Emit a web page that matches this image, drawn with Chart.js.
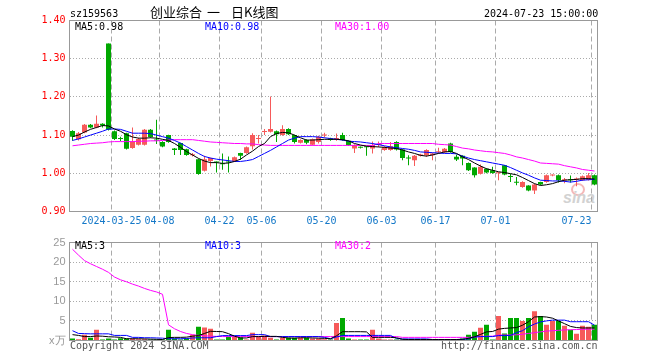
<!DOCTYPE html>
<html>
<head>
<meta charset="utf-8">
<script src="https://cdn.jsdelivr.net/npm/chart.js@4.4.1/dist/chart.umd.min.js"></script>
<style>
  html, body { margin: 0; padding: 0; background: #fff; }
  #wrap { position: relative; width: 660px; height: 360px; overflow: hidden;
          font-family: "DejaVu Sans Mono", monospace; font-size: 10px; }
  canvas { position: absolute; left: 0; }
  #pc { top: 0; }
  #vc { top: 232px; }
  .t { position: absolute; white-space: pre; line-height: 10px; }
  .cjk { font: 13px/13px "Noto Sans CJK SC", sans-serif; }
  .logo { position: absolute; left: 563px; top: 190px; font: italic bold 16px/16px "Liberation Sans", sans-serif; color: #d2d2d2; }
  .eye { position: absolute; left: 571px; top: 183px; width: 10px; height: 9px; border: 2px solid #f4b8b8; border-radius: 50%; }
</style>
</head>
<body>
<div id="wrap">
  <div class="eye"></div>
  <div class="logo">sina</div>
  <canvas id="pc" width="660" height="232"></canvas>
  <canvas id="vc" width="660" height="128"></canvas>

  <div class="t" style="left:70px;top:9px">sz159563</div>
  <div class="t cjk" style="left:150px;top:5px">创业综合</div>
  <div class="t cjk" style="left:207px;top:5px">一</div>
  <div class="t cjk" style="left:231px;top:5px">日K线图</div>
  <div class="t" style="left:484px;top:9px">2024-07-23 15:00:00</div>

  <div class="t" style="left:75px;top:22px;color:#000">MA5:0.98</div>
  <div class="t" style="left:205px;top:22px;color:#0000ff">MA10:0.98</div>
  <div class="t" style="left:335px;top:22px;color:#ff00ff">MA30:1.00</div>

  <div class="t" style="left:75px;top:241px;color:#000">MA5:3</div>
  <div class="t" style="left:205px;top:241px;color:#0000ff">MA10:3</div>
  <div class="t" style="left:335px;top:241px;color:#ff00ff">MA30:2</div>

  <div class="t" style="left:70px;top:341px;color:#555">Copyright 2024 SINA.COM</div>
  <div class="t" style="left:441px;top:341px;color:#555">http://finance.sina.com.cn</div>
</div>

<script>
// trading days shown on the chart
const dates = [
  '2024-03-14','2024-03-15','2024-03-18','2024-03-19','2024-03-20','2024-03-21','2024-03-22','2024-03-25','2024-03-26','2024-03-27',
  '2024-03-28','2024-03-29','2024-04-01','2024-04-02','2024-04-03','2024-04-08','2024-04-09','2024-04-10','2024-04-11','2024-04-12',
  '2024-04-15','2024-04-16','2024-04-17','2024-04-18','2024-04-19','2024-04-22','2024-04-23','2024-04-24','2024-04-25','2024-04-26',
  '2024-04-29','2024-04-30','2024-05-06','2024-05-07','2024-05-08','2024-05-09','2024-05-10','2024-05-13','2024-05-14','2024-05-15',
  '2024-05-16','2024-05-17','2024-05-20','2024-05-21','2024-05-22','2024-05-23','2024-05-24','2024-05-27','2024-05-28','2024-05-29',
  '2024-05-30','2024-05-31','2024-06-03','2024-06-04','2024-06-05','2024-06-06','2024-06-07','2024-06-11','2024-06-12','2024-06-13',
  '2024-06-14','2024-06-17','2024-06-18','2024-06-19','2024-06-20','2024-06-21','2024-06-24','2024-06-25','2024-06-26','2024-06-27',
  '2024-06-28','2024-07-01','2024-07-02','2024-07-03','2024-07-04','2024-07-05','2024-07-08','2024-07-09','2024-07-10','2024-07-11',
  '2024-07-12','2024-07-15','2024-07-16','2024-07-17','2024-07-18','2024-07-19','2024-07-22','2024-07-23'
];

// dates with a gridline + label underneath
const axisDates  = ['2024-03-25','2024-04-08','2024-04-22','2024-05-06','2024-05-20','2024-06-03','2024-06-17','2024-07-01','2024-07-23'];
const axisLabels = ['2024-03-25','04-08','04-22','05-06','05-20','06-03','06-17','07-01','07-23     '];

const priceTicks = [0.9, 1.0, 1.1, 1.2, 1.3, 1.4];
const volTicks   = [0, 5, 10, 15, 20, 25];

const open = [
  1.111,1.089,1.107,1.127,1.120,1.130,1.340,1.110,1.091,1.105,
  1.066,1.075,1.075,1.114,1.088,1.082,1.100,1.065,1.079,1.063,
  1.047,1.037,1.007,1.032,1.030,1.025,1.029,1.032,1.053,1.053,
  1.071,1.090,1.108,1.109,1.110,1.100,1.116,1.100,1.080,1.087,
  1.075,1.082,1.099,1.091,1.090,1.100,1.085,1.065,1.069,1.069,
  1.065,1.074,1.061,1.061,1.082,1.062,1.040,1.034,1.046,1.047,
  1.047,1.055,1.055,1.078,1.043,1.046,1.027,1.015,0.999,1.012,
  1.008,1.000,1.021,0.991,0.976,0.964,0.968,0.955,0.977,0.977,
  0.994,0.995,0.982,0.983,0.984,0.982,0.983,0.995
];
const close = [
  1.096,1.105,1.127,1.120,1.130,1.125,1.114,1.090,1.090,1.064,
  1.083,1.090,1.114,1.095,1.086,1.070,1.082,1.061,1.061,1.048,
  1.049,0.998,1.037,1.040,1.028,1.024,1.028,1.042,1.046,1.068,
  1.100,1.092,1.109,1.116,1.102,1.116,1.102,1.082,1.087,1.080,
  1.089,1.096,1.100,1.087,1.091,1.087,1.074,1.074,1.067,1.068,
  1.074,1.075,1.069,1.071,1.062,1.040,1.039,1.046,1.049,1.061,
  1.052,1.056,1.064,1.056,1.036,1.039,1.008,0.995,1.017,1.002,
  1.001,1.001,0.997,0.990,0.975,0.977,0.955,0.971,0.971,0.995,
  0.995,0.982,0.983,0.982,0.985,0.992,0.995,0.971
];
const high = [
  1.113,1.108,1.129,1.129,1.151,1.131,1.340,1.112,1.096,1.106,
  1.120,1.093,1.116,1.116,1.140,1.084,1.101,1.066,1.080,1.064,
  1.053,1.038,1.046,1.041,1.031,1.052,1.044,1.044,1.054,1.070,
  1.105,1.100,1.116,1.201,1.112,1.126,1.118,1.101,1.089,1.089,
  1.091,1.098,1.106,1.093,1.104,1.106,1.086,1.076,1.070,1.071,
  1.083,1.083,1.071,1.082,1.084,1.063,1.047,1.048,1.051,1.063,
  1.054,1.067,1.066,1.080,1.049,1.047,1.028,1.016,1.023,1.013,
  1.017,1.002,1.022,0.999,0.990,0.979,0.969,0.973,0.978,0.997,
  0.997,0.997,0.988,0.994,0.989,0.994,1.001,0.997
];
const low = [
  1.085,1.086,1.105,1.118,1.118,1.120,1.112,1.087,1.084,1.062,
  1.064,1.073,1.073,1.093,1.077,1.068,1.080,1.048,1.048,1.046,
  1.044,0.996,1.005,1.018,1.002,1.009,1.002,1.030,1.035,1.051,
  1.062,1.078,1.100,1.107,1.082,1.098,1.100,1.078,1.078,1.076,
  1.073,1.078,1.094,1.085,1.085,1.085,1.072,1.053,1.065,1.046,
  1.052,1.069,1.059,1.059,1.060,1.034,1.021,1.019,1.044,1.043,
  1.034,1.052,1.053,1.054,1.032,1.021,1.006,0.989,0.997,1.000,
  0.999,0.982,0.995,0.977,0.969,0.962,0.953,0.946,0.969,0.975,
  0.992,0.976,0.974,0.976,0.966,0.980,0.981,0.969
];

const ma5 = [
  1.096,1.100,1.108,1.115,1.120,1.125,1.124,1.116,1.110,1.101,
  1.095,1.092,1.092,1.093,1.092,1.089,1.086,1.078,1.068,1.057,
  1.048,1.039,1.032,1.028,1.028,1.026,1.027,1.031,1.037,1.048,
  1.058,1.070,1.078,1.096,1.104,1.107,1.106,1.100,1.093,1.087,
  1.087,1.088,1.089,1.089,1.089,1.088,1.085,1.078,1.074,1.071,
  1.070,1.069,1.068,1.066,1.065,1.061,1.056,1.052,1.047,1.045,
  1.048,1.052,1.056,1.057,1.052,1.043,1.036,1.027,1.019,1.012,
  1.008,1.004,1.002,0.999,0.996,0.989,0.981,0.973,0.968,0.970,
  0.973,0.978,0.982,0.983,0.984,0.986,0.986,0.985
];
const ma10 = [
  1.086,1.090,1.095,1.100,1.105,1.110,1.116,1.116,1.115,1.110,
  1.105,1.105,1.105,1.104,1.100,1.096,1.092,1.086,1.079,1.070,
  1.061,1.052,1.044,1.040,1.037,1.035,1.033,1.031,1.031,1.033,
  1.036,1.044,1.052,1.060,1.069,1.078,1.087,1.092,1.096,1.096,
  1.096,1.095,1.093,1.091,1.089,1.087,1.084,1.083,1.082,1.080,
  1.078,1.075,1.072,1.069,1.067,1.065,1.063,1.060,1.056,1.055,
  1.054,1.053,1.052,1.052,1.051,1.045,1.040,1.036,1.033,1.030,
  1.027,1.024,1.021,1.015,1.008,1.001,0.995,0.988,0.982,0.981,
  0.980,0.980,0.979,0.977,0.979,0.982,0.983,0.984
];
const ma30 = [
  1.072,1.074,1.076,1.078,1.079,1.080,1.082,1.083,1.083,1.083,
  1.083,1.084,1.084,1.085,1.085,1.086,1.087,1.088,1.088,1.088,
  1.088,1.086,1.084,1.082,1.081,1.080,1.079,1.078,1.078,1.077,
  1.077,1.075,1.074,1.073,1.073,1.073,1.073,1.073,1.073,1.073,
  1.073,1.073,1.073,1.073,1.073,1.073,1.073,1.073,1.073,1.073,
  1.073,1.078,1.078,1.078,1.078,1.078,1.078,1.078,1.078,1.078,
  1.078,1.076,1.075,1.074,1.070,1.066,1.064,1.061,1.059,1.057,
  1.056,1.054,1.052,1.048,1.043,1.040,1.036,1.032,1.027,1.026,
  1.025,1.024,1.020,1.017,1.014,1.010,1.008,1.006
];

// volume, 万
const vol = [
  0.5,0.3,1.5,0.7,2.75,0.25,0.5,0.25,0.6,0.5,
  0.5,0.3,0.3,0.25,0.2,0.25,2.75,0.5,0.25,0.5,
  1.5,3.5,3.3,3.0,0.25,0.25,1.0,1.0,0.8,0.25,
  2.0,1.0,1.25,0.7,0.25,0.7,0.7,0.7,0.7,0.7,
  0.5,0.5,0.3,0.25,4.5,5.75,0.5,0.25,0.25,0.25,
  2.75,0.5,0.25,0.25,0.25,0.25,0.25,0.25,0.25,0.25,
  0.25,0.25,0.25,0.25,0.25,0.5,1.5,2.25,3.25,4.0,
  0.25,6.25,1.8,5.75,5.75,5.0,5.75,7.5,6.25,4.0,
  5.0,5.0,3.75,2.75,1.75,3.75,3.5,4.0
];
const vma5 = [
  1.5,1.3,1.0,1.0,1.15,1.1,0.95,0.9,0.8,0.45,
  0.45,0.45,0.4,0.35,0.3,0.25,0.75,0.8,0.8,0.85,
  1.1,1.25,1.8,2.35,2.3,2.25,1.75,1.1,0.65,0.65,
  1.0,1.0,1.05,1.05,1.05,0.8,0.65,0.6,0.7,0.7,
  0.65,0.6,0.55,0.45,1.2,2.25,2.25,2.25,2.25,2.2,
  0.8,0.8,0.8,0.8,0.7,0.3,0.25,0.25,0.25,0.25,
  0.25,0.25,0.25,0.25,0.25,0.3,0.55,0.95,1.55,2.2,
  2.3,2.9,3.1,3.2,3.3,3.9,4.8,6.0,6.1,6.0,
  5.7,5.0,4.3,3.6,3.3,3.2,3.2,3.2
];
const vma10 = [
  2.5,1.8,1.75,1.7,1.7,1.7,1.7,1.3,1.3,1.3,
  0.8,0.8,0.7,0.7,0.65,0.6,0.45,0.45,0.45,0.5,
  0.65,0.7,0.7,0.7,1.0,1.25,1.25,1.25,1.25,1.25,
  1.5,1.5,1.5,1.0,1.0,1.0,1.0,1.0,1.0,1.0,
  1.0,1.0,0.8,0.45,0.9,1.3,1.3,1.3,1.3,1.3,
  1.3,1.3,1.3,1.3,0.5,0.4,0.4,0.4,0.4,0.4,
  0.25,0.25,0.25,0.25,0.25,0.3,0.4,0.9,1.0,1.0,
  1.0,1.25,1.25,1.3,2.0,2.5,3.5,4.2,4.75,5.0,
  5.2,5.2,5.2,4.8,4.8,4.8,4.8,3.9
];
const vma30 = [
  23.3,21.8,20.4,19.6,18.9,18.2,17.4,16.2,15.5,15.0,
  14.4,13.9,13.3,12.8,12.4,11.8,4.0,3.0,2.3,1.8,
  1.5,1.3,1.2,1.1,1.05,1.0,1.0,1.0,1.0,1.0,
  1.0,1.0,1.0,1.0,1.0,1.0,1.0,1.0,1.0,1.0,
  1.0,1.0,1.0,1.0,1.0,1.0,1.0,1.0,1.0,1.0,
  1.0,1.0,1.0,1.0,1.0,0.8,0.8,0.8,0.8,0.8,
  0.8,0.8,0.8,0.8,0.8,0.8,0.8,0.9,1.0,1.1,
  1.1,1.4,1.4,1.4,1.45,1.6,1.8,2.0,2.2,2.4,
  2.5,2.6,2.7,2.75,2.8,2.85,2.9,2.9
];

const MONO = '"DejaVu Sans Mono", monospace';
const UP = '#f65a5a', DOWN = '#00a800';
const candleColor = close.map((c, i) => c >= open[i] ? UP : DOWN);

Chart.defaults.font.family = MONO;
Chart.defaults.font.size = 10;

function xAxis(showLabels, h) {
  return {
    type: 'category',
    offset: true,
    grid: {
      offset: true,
      drawTicks: false,
      color: ctx => axisDates.includes(dates[ctx.index]) ? '#aaa' : 'rgba(0,0,0,0)'
    },
    border: { color: '#999', dash: [5, 3] },
    ticks: {
      display: showLabels,
      autoSkip: false,
      maxRotation: 0, minRotation: 0,
      labelOffset: -3,
      padding: 4,
      color: '#1478c8',
      font: { family: MONO, size: 10 },
      callback: (v, i) => {
        const k = axisDates.indexOf(dates[i]);
        return k < 0 ? '' : axisLabels[k];
      }
    },
    afterFit: s => { s.height = h; }
  };
}

// plain box edges on top and right
const edgeTop = {
  type: 'linear', axis: 'x', position: 'top', min: 0, max: 1,
  grid: { drawOnChartArea: false, drawTicks: false, color: 'rgba(0,0,0,0)' },
  border: { color: '#999' }, ticks: { display: false },
  afterFit: s => { s.height = 0; }
};
const edgeRight = {
  type: 'linear', axis: 'y', position: 'right', min: 0, max: 1,
  grid: { drawOnChartArea: false, drawTicks: false, color: 'rgba(0,0,0,0)' },
  border: { color: '#999' }, ticks: { display: false },
  afterFit: s => { s.width = 0; }
};

function lineSet(data, color, order) {
  return { type: 'line', data, borderColor: color, borderWidth: 1, pointRadius: 0,
           tension: 0, fill: false, order };
}

/* ── Price (K-line) ── */
new Chart(document.getElementById('pc'), {
  type: 'bar',
  data: {
    labels: dates,
    datasets: [
      lineSet(ma5, '#000000', 0),
      lineSet(ma10, '#0000ff', 1),
      lineSet(ma30, '#ff00ff', 2),
      {
        data: open.map((o, i) => [o, close[i]]),
        backgroundColor: candleColor,
        barThickness: 5, minBarLength: 1, grouped: false,
        inflateAmount: 0, borderWidth: 0, order: 3
      },
      {
        data: low.map((l, i) => [l, high[i]]),
        backgroundColor: candleColor,
        barThickness: 1, minBarLength: 1, grouped: false,
        inflateAmount: 0, borderWidth: 0, order: 4
      }
    ]
  },
  options: {
    responsive: false,
    animation: false,
    events: [],
    layout: { padding: { top: 20.5, right: 62.5, left: 0, bottom: 0 } },
    plugins: { legend: { display: false }, tooltip: { enabled: false } },
    scales: {
      x: xAxis(true, 20.5),
      xTop: edgeTop,
      y: {
        min: priceTicks[0], max: priceTicks[priceTicks.length - 1],
        afterBuildTicks: s => { s.ticks = priceTicks.map(v => ({ value: v })); },
        grid: {
          drawTicks: false,
          color: ctx => ctx.tick && ctx.tick.value > priceTicks[0] && ctx.tick.value < priceTicks[priceTicks.length - 1] ? '#aaa' : 'rgba(0,0,0,0)'
        },
        border: { color: '#999', dash: [1, 2] },
        ticks: { color: '#ff0000', padding: 4, font: { family: MONO, size: 10 },
                 callback: v => v.toFixed(2) },
        afterFit: s => { s.width = 69.5; }
      },
      yRight: edgeRight
    }
  }
});

/* ── Volume ── */
new Chart(document.getElementById('vc'), {
  type: 'bar',
  data: {
    labels: dates,
    datasets: [
      lineSet(vma5, '#000000', 0),
      lineSet(vma10, '#0000ff', 1),
      lineSet(vma30, '#ff00ff', 2),
      {
        data: vol,
        backgroundColor: candleColor,
        barThickness: 5, minBarLength: 1,
        inflateAmount: 0, borderWidth: 0, order: 3
      }
    ]
  },
  options: {
    responsive: false,
    animation: false,
    events: [],
    layout: { padding: { top: 8.5, right: 62.5, left: 0, bottom: 0 } },
    plugins: { legend: { display: false }, tooltip: { enabled: false } },
    scales: {
      x: xAxis(false, 19.5),
      xTop: edgeTop,
      y: {
        min: volTicks[0], max: volTicks[volTicks.length - 1],
        afterBuildTicks: s => { s.ticks = volTicks.map(v => ({ value: v })); },
        grid: {
          drawTicks: false,
          color: ctx => ctx.tick && ctx.tick.value > 0 && ctx.tick.value < 25 ? '#aaa' : 'rgba(0,0,0,0)'
        },
        border: { color: '#999', dash: [1, 2] },
        ticks: { color: '#999', padding: 4, font: { family: '"Liberation Sans", sans-serif', size: 11 },
                 callback: v => v === 0 ? 'x万' : v },
        afterFit: s => { s.width = 69.5; }
      },
      yRight: edgeRight
    }
  }
});
</script>
</body>
</html>
